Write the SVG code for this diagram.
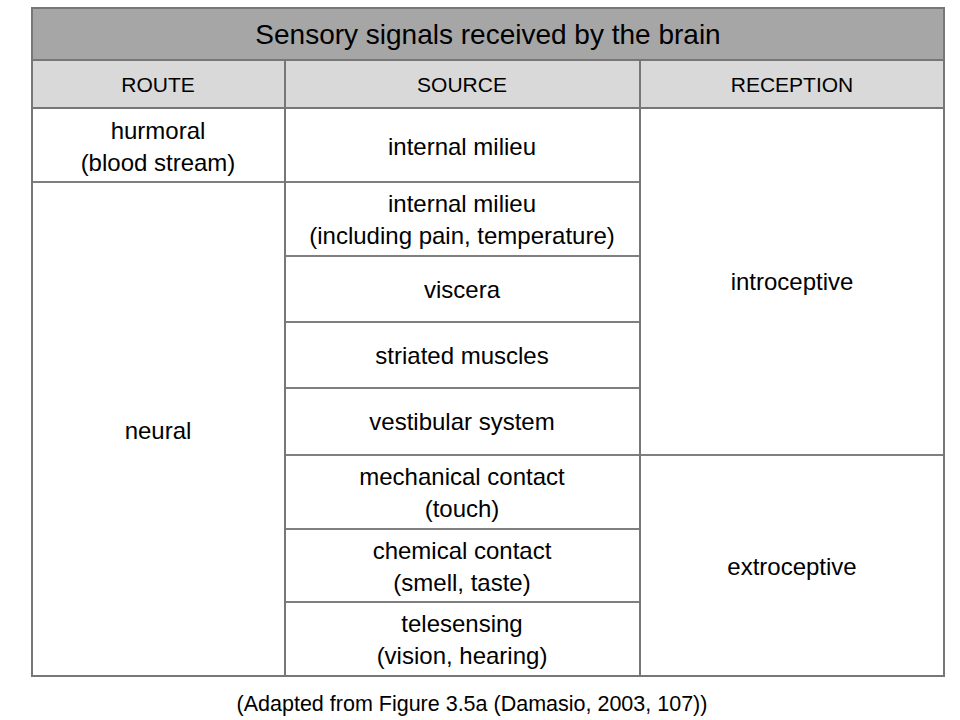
<svg xmlns="http://www.w3.org/2000/svg" width="960" height="720" viewBox="0 0 960 720">
<style>
text{font-family:"Liberation Sans",Arial,sans-serif;font-size:24px;fill:#000;text-anchor:middle}
.t{font-size:28px}
.h{font-size:21px}
.f{font-size:21.5px}
.g{stroke:#777;stroke-width:2;fill:none}
.l{stroke:#000;stroke-width:1.2;fill:none}
</style>
<rect width="960" height="720" fill="#fff"/>
<g id="title">
<rect x="32" y="8" width="912" height="52" fill="#a6a6a6"/>
<text class="t" x="488" y="44">Sensory signals received by the brain</text>
</g>
<g id="header">
<rect x="32" y="60" width="912" height="48" fill="#d9d9d9"/>
<text class="h" x="158" y="92">ROUTE</text>
<text class="h" x="462" y="92">SOURCE</text>
<text class="h" x="792" y="92">RECEPTION</text>
</g>
<g id="lines">
<line class="l" x1="32" y1="182" x2="640" y2="182"/>
<line class="l" x1="285" y1="256" x2="640" y2="256"/>
<line class="l" x1="285" y1="322" x2="640" y2="322"/>
<line class="l" x1="285" y1="388" x2="640" y2="388"/>
<line class="l" x1="285" y1="455" x2="944" y2="455"/>
<line class="l" x1="285" y1="529" x2="640" y2="529"/>
<line class="l" x1="285" y1="602" x2="640" y2="602"/>
<line class="g" x1="32" y1="60" x2="944" y2="60"/>
<line class="g" x1="32" y1="108" x2="944" y2="108"/>
<line class="g" x1="285" y1="60" x2="285" y2="676"/>
<line class="g" x1="640" y1="60" x2="640" y2="676"/>
<rect class="g" x="32" y="8" width="912" height="668"/>
</g>
<g id="route">
<text x="158" y="139">hurmoral</text>
<text x="158" y="171">(blood stream)</text>
<text x="158" y="439">neural</text>
</g>
<g id="source">
<text x="462" y="155">internal milieu</text>
<text x="462" y="212">internal milieu</text>
<text x="462" y="244">(including pain, temperature)</text>
<text x="462" y="298">viscera</text>
<text x="462" y="364">striated muscles</text>
<text x="462" y="430">vestibular system</text>
<text x="462" y="485">mechanical contact</text>
<text x="462" y="517">(touch)</text>
<text x="462" y="559">chemical contact</text>
<text x="462" y="591">(smell, taste)</text>
<text x="462" y="632">telesensing</text>
<text x="462" y="664">(vision, hearing)</text>
</g>
<g id="reception">
<text x="792" y="290">introceptive</text>
<text x="792" y="575">extroceptive</text>
</g>
<g id="footer">
<text class="f" x="472" y="711">(Adapted from Figure 3.5a (Damasio, 2003, 107))</text>
</g>
</svg>
